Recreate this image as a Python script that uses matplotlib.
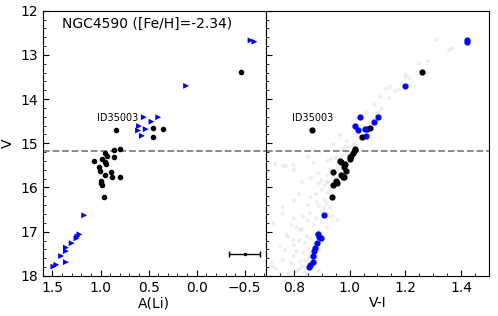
import numpy as np
import matplotlib.pyplot as plt
from matplotlib.ticker import MultipleLocator

# stars with measured A(Li) (black dots)
det_v = [13.38, 14.65, 14.68, 14.70, 14.85, 15.13, 15.16, 15.21, 15.29, 15.32,
         15.36, 15.40, 15.42, 15.47, 15.53, 15.63, 15.66, 15.71, 15.76, 15.77,
         15.85, 15.90, 15.94, 16.21]
det_ali = [-0.46, 0.45, 0.35, 0.84, 0.45, 0.80, 0.86, 0.95, 0.93, 0.86,
           0.98, 1.07, 0.95, 0.94, 1.02, 1.01, 0.89, 0.95, 0.88, 0.80,
           0.99, 1.00, 0.98, 0.96]
det_vi = [1.260, 1.073, 1.062, 0.864, 1.044, 1.020, 1.019, 1.013, 1.005, 1.003,
          1.001, 0.965, 0.970, 0.983, 0.981, 0.987, 0.941, 0.969, 0.977, 0.980,
          0.951, 0.954, 0.939, 0.937]

# upper limits (blue)
lim_v = [12.67, 12.70, 13.70, 14.41, 14.41, 14.51, 14.61, 14.68, 14.71, 14.83,
         16.63, 17.06, 17.11, 17.15, 17.26, 17.36, 17.44, 17.55, 17.69, 17.75, 17.79]
lim_ali = [-0.56, -0.60, 0.11, 0.55, 0.40, 0.47, 0.60, 0.53, 0.61, 0.57,
           1.17, 1.22, 1.24, 1.25, 1.30, 1.36, 1.36, 1.41, 1.36, 1.46, 1.49]
lim_vi = [1.422, 1.422, 1.200, 1.036, 1.101, 1.089, 1.018, 1.056, 1.029, 1.058,
          0.909, 0.885, 0.890, 0.897, 0.884, 0.875, 0.873, 0.870, 0.868, 0.858, 0.856]

# cluster photometry (grey background)
gray_vi = [1.312, 1.357, 1.368, 1.282, 1.250, 1.278, 1.201, 1.201, 1.215, 1.187,
           1.145, 1.131, 1.178, 1.163, 1.142, 1.111, 1.089, 1.061, 1.115, 1.103,
           1.025, 1.097, 1.013, 1.040, 1.034, 1.037, 0.965, 0.941, 0.995, 1.011,
           1.070, 1.080, 1.050, 0.990, 1.020, 0.980, 1.045,
           0.965, 0.933, 0.732, 0.708, 0.762, 0.772, 0.798, 0.888, 0.900, 0.918,
           0.924, 0.819, 0.882, 0.918, 0.907, 0.956, 0.936, 0.858, 0.834, 0.726,
           0.792, 0.810, 0.822, 0.774, 0.798, 0.846, 0.750, 0.768, 0.810, 0.834,
           0.852, 0.822, 0.792, 0.726, 0.738, 0.703, 0.810, 0.840, 0.780, 0.870,
           0.880,
           0.990, 0.975, 0.960, 0.950, 0.920, 0.850, 0.870,
           0.960, 0.950, 0.930, 0.940, 0.920, 0.910, 0.890, 0.960, 0.860, 0.830, 0.800,
           0.930, 0.920, 0.900, 0.880, 0.940, 0.910, 0.860, 0.850, 0.890, 0.930, 0.800, 0.760,
           0.900, 0.920, 0.880, 0.900, 0.870, 0.920, 0.850, 0.830, 0.890, 0.800, 0.760,
           0.880, 0.860, 0.900, 0.840, 0.870, 0.820, 0.850, 0.890, 0.800, 0.780, 0.860,
           0.860, 0.840, 0.880, 0.830, 0.860, 0.820, 0.760, 0.800, 0.850, 0.890, 0.750, 0.720]
gray_v = [12.65, 12.89, 12.85, 13.14, 13.19, 13.40, 13.45, 13.51, 13.53, 13.64,
          13.72, 13.76, 13.78, 13.81, 13.98, 13.95, 14.13, 14.31, 14.21, 14.29,
          14.43, 14.36, 14.61, 14.74, 14.81, 14.89, 14.81, 15.02, 15.08, 15.05,
          14.55, 14.45, 14.70, 14.95, 15.00, 15.12, 14.60,
          15.36, 15.36, 15.47, 15.62, 15.51, 15.51, 15.49, 15.68, 15.83, 15.87,
          15.90, 16.15, 16.32, 16.36, 16.47, 16.74, 16.66, 16.58, 16.66, 16.81,
          16.85, 16.89, 16.96, 17.07, 17.19, 17.10, 17.34, 17.41, 17.45, 17.47,
          17.60, 17.67, 17.71, 17.79, 17.85, 17.57, 17.90, 17.94, 17.94, 17.79,
          17.60,
          15.22, 15.28, 15.45, 15.33, 15.40, 15.30, 15.45,
          15.55, 15.62, 15.60, 15.75, 15.72, 15.95, 15.90, 15.80, 15.78, 15.88, 15.60,
          16.05, 16.12, 16.05, 16.15, 16.25, 16.28, 16.22, 16.40, 16.42, 16.45, 16.30, 16.45,
          16.55, 16.60, 16.70, 16.78, 16.85, 16.90, 16.75, 16.95, 16.98, 16.70, 16.60,
          17.05, 17.15, 17.20, 17.25, 17.30, 17.20, 17.38, 17.40, 17.30, 17.12, 17.48,
          17.55, 17.65, 17.70, 17.78, 17.85, 17.85, 17.65, 17.55, 17.95, 17.90, 17.95, 17.70]

v_cut = 15.17

fig, (ax1, ax2) = plt.subplots(1, 2, sharey=True, figsize=(4.98, 3.16), dpi=100)
fig.subplots_adjust(left=0.086, right=0.982, top=0.966, bottom=0.127, wspace=0)

#left panel: A(Li) vs V
ax1.scatter(det_ali, det_v, s=9, color='black', zorder=3)
ax1.scatter(lim_ali, lim_v, s=18, marker='>', color='blue', edgecolors='none', zorder=3)
ax1.errorbar([-0.5], [17.5], xerr=[0.16], fmt='o', ms=1.5, color='black',
             elinewidth=1, capsize=2, capthick=1)
ax1.axhline(v_cut, color='gray', ls='--', lw=1.3)
ax1.text(0.82, 14.43, 'ID35003', fontsize=7, ha='center', va='center')
ax1.text(0.086, 0.95, 'NGC4590 ([Fe/H]=-2.34)', transform=ax1.transAxes,
         fontsize=10, ha='left', va='center')
ax1.set_xlim(1.6, -0.72)
ax1.set_ylim(18, 12)
ax1.set_xlabel('A(Li)', fontsize=10, labelpad=1)
ax1.set_ylabel('V', fontsize=10)
ax1.xaxis.set_major_locator(MultipleLocator(0.5))
ax1.xaxis.set_minor_locator(MultipleLocator(0.1))

#right panel: CMD
ax2.scatter(gray_vi, gray_v, s=9, color='gray', alpha=0.13, edgecolors='none', zorder=1)
ax2.scatter(det_vi, det_v, s=12, color='black', zorder=3)
ax2.scatter(lim_vi, lim_v, s=12, color='blue', zorder=3)
ax2.axhline(v_cut, color='gray', ls='--', lw=1.3)
ax2.text(0.868, 14.43, 'ID35003', fontsize=7, ha='center', va='center')
ax2.set_xlim(0.7, 1.5)
ax2.set_xlabel('V-I', fontsize=10, labelpad=1)
ax2.xaxis.set_major_locator(MultipleLocator(0.2))
ax2.xaxis.set_minor_locator(MultipleLocator(0.05))

ax1.yaxis.set_major_locator(MultipleLocator(1))
ax1.yaxis.set_minor_locator(MultipleLocator(0.2))
for ax in (ax1, ax2):
    ax.tick_params(which='both', direction='in', labelsize=10)
    ax.tick_params(which='major', length=4)
    ax.tick_params(which='minor', length=2)

fig.savefig('out.png', dpi=100)
